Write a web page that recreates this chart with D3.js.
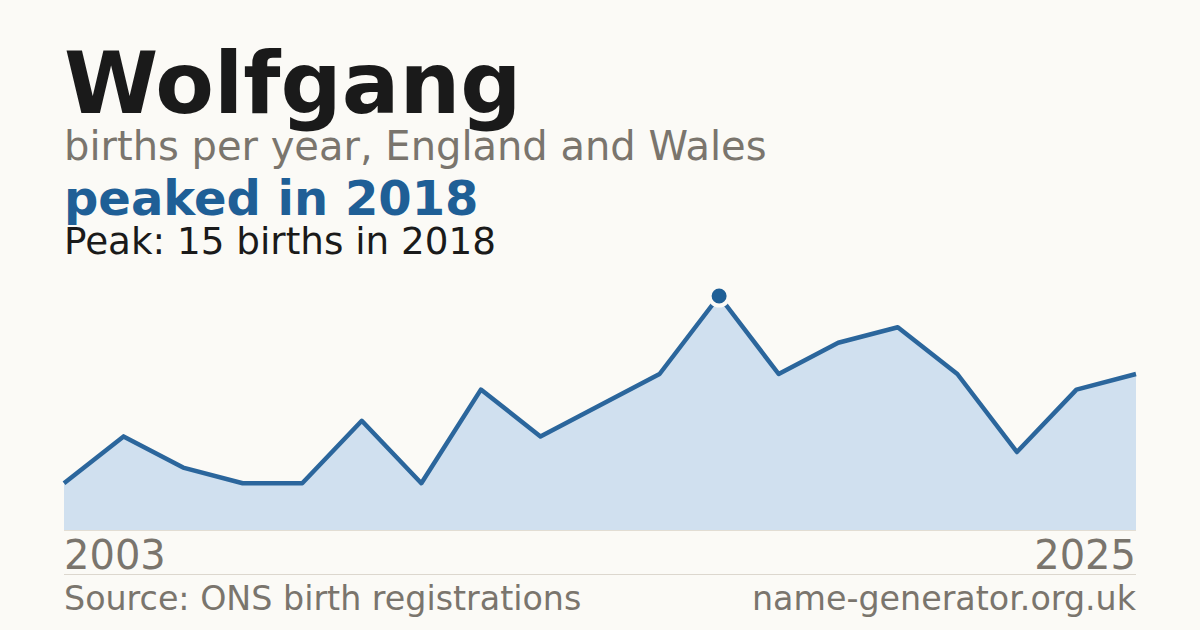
<!DOCTYPE html>
<html>
<head>
<meta charset="utf-8">
<script src="https://cdn.jsdelivr.net/npm/d3@7"></script>
<style>
  html, body { margin: 0; padding: 0; background: #fbfaf6; }
  svg { display: block; font-family: "DejaVu Sans", sans-serif; }
</style>
</head>
<body>
<svg id="chart" width="1200" height="630"></svg>
<script>
// births per year (years with too few births are not published)
const years = [2003, 2004, 2005, 2006, 2007, 2009, 2010, 2012, 2014, 2016, 2017,
  2018, 2019, 2020, 2021, 2022, 2023, 2024, 2025]
const births = [3, 6, 4, 3, 3, 7, 3, 9, 6, 8, 10, 15, 10, 12, 13, 10, 5, 9, 10]
const axisLabels = ['2003', '2025']

const babyName = 'Wolfgang'
const subtitle = 'births per year, England and Wales'
const trend = 'peaked in 2018'
const peakNote = 'Peak: 15 births in 2018'
const source = 'Source: ONS birth registrations'
const site = 'name-generator.org.uk'

const svg = d3.select('#chart'),
  plotLeft = 64,
  plotRight = 1136,
  plotTop = 296,
  plotBottom = 530

svg.append('rect')
  .attr('width', 1200)
  .attr('height', 630)
  .attr('fill', '#fbfaf6')

svg.append('text')
  .attr('x', plotLeft)
  .attr('y', 113)
  .attr('font-size', 85.5)
  .attr('font-weight', 'bold')
  .attr('fill', '#1a1a1a')
  .text(babyName)

svg.append('text')
  .attr('x', plotLeft)
  .attr('y', 160)
  .attr('font-size', 40)
  .attr('fill', '#7a756d')
  .text(subtitle)

svg.append('text')
  .attr('x', plotLeft)
  .attr('y', 215)
  .attr('font-size', 48)
  .attr('font-weight', 'bold')
  .attr('fill', '#1f5f96')
  .text(trend)

svg.append('text')
  .attr('x', plotLeft)
  .attr('y', 254)
  .attr('font-size', 37.3)
  .attr('fill', '#1a1a1a')
  .text(peakNote)

const x = d3.scalePoint()
  .domain(years)
  .range([plotLeft, plotRight])

const y = d3.scaleLinear()
  .domain([0, d3.max(births)])
  .range([plotBottom, plotTop])

const series = years.map((yr, i) => ({ year: yr, value: births[i] }))

const area = d3.area()
  .x(d => x(d.year))
  .y0(plotBottom)
  .y1(d => y(d.value))

const line = d3.line()
  .x(d => x(d.year))
  .y(d => y(d.value))

svg.append('path')
  .datum(series)
  .attr('d', area)
  .attr('fill', '#d0e0ef')

svg.append('line')
  .attr('x1', plotLeft)
  .attr('x2', plotRight)
  .attr('y1', plotBottom + 0.5)
  .attr('y2', plotBottom + 0.5)
  .attr('stroke', '#e2ddd3')
  .attr('stroke-width', 1)

svg.append('path')
  .datum(series)
  .attr('d', line)
  .attr('fill', 'none')
  .attr('stroke', '#2b669c')
  .attr('stroke-width', 4.5)
  .attr('stroke-linejoin', 'round')

const peak = series[d3.maxIndex(births)]
svg.append('circle')
  .attr('cx', x(peak.year))
  .attr('cy', y(peak.value))
  .attr('r', 9.5)
  .attr('fill', '#1f5f96')
  .attr('stroke', '#fbfaf6')
  .attr('stroke-width', 4)

svg.append('text')
  .attr('x', plotLeft)
  .attr('y', 569)
  .attr('font-size', 40)
  .attr('fill', '#7a756d')
  .text(axisLabels[0])

svg.append('text')
  .attr('x', plotRight)
  .attr('y', 569)
  .attr('font-size', 40)
  .attr('text-anchor', 'end')
  .attr('fill', '#7a756d')
  .text(axisLabels[1])

svg.append('line')
  .attr('x1', plotLeft)
  .attr('x2', plotRight)
  .attr('y1', 574.5)
  .attr('y2', 574.5)
  .attr('stroke', '#dcd7ce')
  .attr('stroke-width', 1)

svg.append('text')
  .attr('x', plotLeft)
  .attr('y', 610)
  .attr('font-size', 33.3)
  .attr('fill', '#7a756d')
  .text(source)

svg.append('text')
  .attr('x', plotRight)
  .attr('y', 610)
  .attr('font-size', 33.3)
  .attr('text-anchor', 'end')
  .attr('fill', '#7a756d')
  .text(site)
</script>
</body>
</html>
